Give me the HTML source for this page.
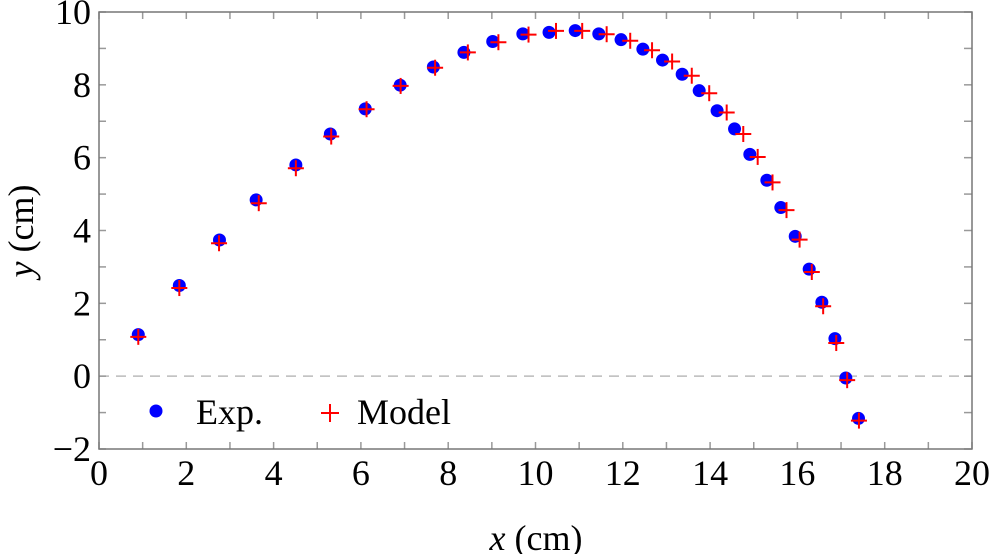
<!DOCTYPE html>
<html><head><meta charset="utf-8"><style>
body{margin:0;background:#fff;}
svg{display:block;font-family:"Liberation Serif",serif;}
</style></head><body>
<svg id="chart" width="990" height="554" viewBox="0 0 990 554">
<g id="axes"></g>
<g id="marks"></g>
<g>
<circle cx="156" cy="411" r="6.5" fill="#0000ff"/>
<text x="196" y="424" font-size="36">Exp.</text>
<g stroke="#ff0000" stroke-width="2"><line x1="321" y1="413" x2="339" y2="413"/><line x1="330" y1="404" x2="330" y2="422"/></g>
<text x="357" y="424" font-size="36">Model</text>
</g>
<text x="536" y="550" font-size="36" text-anchor="middle"><tspan font-style="italic">x</tspan> (cm)</text>
<text transform="translate(33,231) rotate(-90)" font-size="36" text-anchor="middle"><tspan font-style="italic">y</tspan> (cm)</text>
</svg>
<script>
const expX=[0.90,1.84,2.76,3.60,4.51,5.30,6.10,6.90,7.66,8.36,9.02,9.71,10.31,10.91,11.45,11.96,12.46,12.91,13.36,13.75,14.16,14.56,14.91,15.30,15.62,15.95,16.27,16.56,16.86,17.11,17.40];
const expY=[1.14,2.49,3.74,4.84,5.80,6.65,7.34,7.99,8.49,8.89,9.19,9.40,9.44,9.49,9.40,9.24,8.98,8.68,8.29,7.84,7.29,6.79,6.09,5.38,4.63,3.84,2.94,2.03,1.03,-0.05,-1.16];
const modelX=[0.90,1.84,2.75,3.66,4.51,5.32,6.13,6.91,7.70,8.45,9.15,9.84,10.47,11.07,11.63,12.17,12.67,13.13,13.58,13.98,14.38,14.76,15.09,15.43,15.75,16.05,16.33,16.59,16.89,17.14,17.41];
const modelY=[1.08,2.42,3.65,4.75,5.71,6.58,7.33,7.97,8.47,8.89,9.17,9.38,9.48,9.48,9.39,9.21,8.95,8.64,8.25,7.77,7.24,6.65,6.02,5.32,4.56,3.75,2.86,1.92,0.91,-0.11,-1.22];
const xTicks=[0,2,4,6,8,10,12,14,16,18,20];
const yTicks=[-2,0,2,4,6,8,10];
const L=99,R=972,T=12,B=449;
const sx=v=>L+(v-0)/(20-0)*(R-L);
const sy=v=>B-(v+2)/(12)*(B-T);
const NS="http://www.w3.org/2000/svg";
function mk(tag,attrs,parent){const e=document.createElementNS(NS,tag);for(const k in attrs)e.setAttribute(k,attrs[k]);parent.appendChild(e);return e;}
const ax=document.getElementById('axes'),mg=document.getElementById('marks');
const zl=mk('line',{x1:L,x2:R,y1:sy(0),y2:sy(0),stroke:'#bbb','stroke-width':1.5,'stroke-dasharray':'10,7'},ax);


for(let i=0;i<=20;i++){
 const x=sx(i);
 const t1=mk('line',{x1:x,x2:x,y1:B,y2:B-7,stroke:'#999','stroke-width':1.5},ax);
 
 
 const t2=mk('line',{x1:x,x2:x,y1:T,y2:T+7,stroke:'#999','stroke-width':1.5},ax);
 
 
}
for(let i=-2;i<=10;i++){
 const y=sy(i);
 const t1=mk('line',{x1:L,x2:L+7,y1:y,y2:y,stroke:'#999','stroke-width':1.5},ax);
 
 
 const t2=mk('line',{x1:R,x2:R-8,y1:y,y2:y,stroke:'#999','stroke-width':1.5},ax);
 
 
}
const fr=mk('rect',{x:L,y:T,width:R-L,height:B-T,fill:'none',stroke:'#777','stroke-width':1.5},ax);


xTicks.forEach(v=>{
 const t=mk('text',{x:sx(v),y:B+36,'font-size':36,'text-anchor':'middle'},ax);t.textContent=v;
 
 
});
yTicks.forEach(v=>{
 const t=mk('text',{x:L-8,y:sy(v)+12,'font-size':36,'text-anchor':'end'},ax);t.textContent=v<0?'\u2212'+(-v):v;
 
 
});
expX.forEach((v,i)=>{
 const c=mk('circle',{cx:sx(v),cy:sy(expY[i]),r:6.5,fill:'#0000ff'},mg);
 
 
});
modelX.forEach((v,i)=>{
 const x=sx(v),y=sy(modelY[i]);
 const g=mk('g',{stroke:'#ff0000','stroke-width':2},mg);
 
 
 mk('line',{x1:x-8,x2:x+8,y1:y,y2:y},g);
 mk('line',{x1:x,x2:x,y1:y-8,y2:y+8},g);
});
</script>
</body></html>
